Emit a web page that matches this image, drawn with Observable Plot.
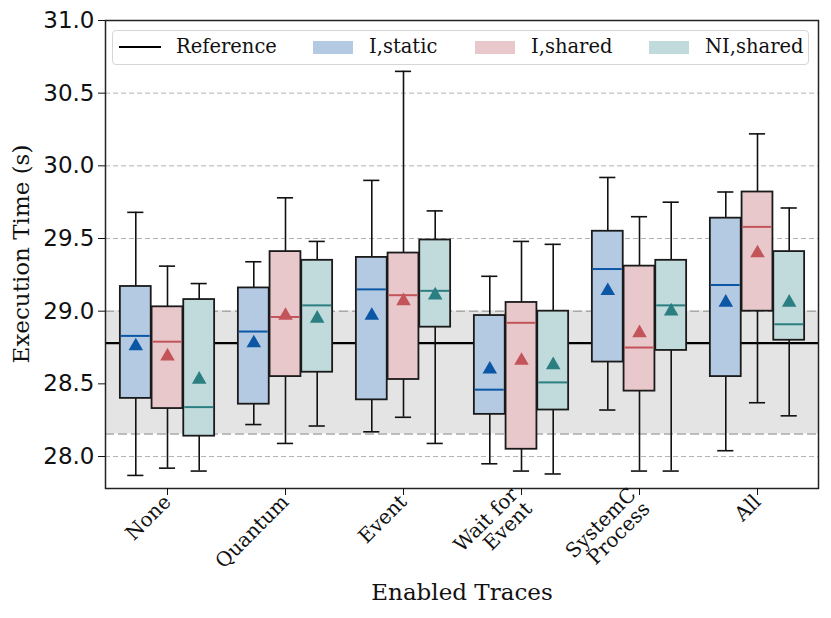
<!DOCTYPE html>
<html>
<head>
<meta charset="utf-8">
<script src="https://cdn.jsdelivr.net/npm/d3@7"></script>
<script src="https://cdn.jsdelivr.net/npm/@observablehq/plot@0.6"></script>
<style>
  body { margin: 0; background: #fff; }
  #wrap { position: relative; width: 831px; height: 618px; }
  .serif { font-family: "DejaVu Serif", serif; color: #111; }
  #legend { position: absolute; left: 112px; top: 30px; width: 697px; height: 35px;
    border: 1px solid #d6d6d6; border-radius: 4px; background: rgba(255,255,255,0.85); box-sizing: border-box; }
  .lg { position: absolute; font-size: 19.5px; line-height: 20px; top: 6px; white-space: nowrap; }
  .patch { position: absolute; top: 10px; width: 40px; height: 13px; }
  #ylab { position: absolute; left: 21px; top: 254px; transform: translate(-50%, -50%) rotate(-90deg);
    font-size: 23px; white-space: nowrap; }
  #xlab { position: absolute; left: 462px; top: 592px; transform: translate(-50%, -50%);
    font-size: 23px; white-space: nowrap; }
</style>
</head>
<body>
<div id="wrap"></div>
<script>
// ---------- data ----------
const categories = ["None", "Quantum", "Event", "Wait for\nEvent", "SystemC\nProcess", "All"];
const seriesNames = ["I,static", "I,shared", "NI,shared"];

const staticLow  = [27.87, 28.22, 28.17, 27.95, 28.32, 28.04];
const staticQ1   = [28.40, 28.36, 28.39, 28.29, 28.65, 28.55];
const staticMed  = [28.83, 28.86, 29.15, 28.46, 29.29, 29.18];
const staticQ3   = [29.17, 29.16, 29.37, 28.97, 29.55, 29.64];
const staticHigh = [29.68, 29.34, 29.90, 29.24, 29.92, 29.82];
const staticMean = [28.76, 28.78, 28.97, 28.60, 29.14, 29.06];

const sharedLow  = [27.92, 28.09, 28.27, 27.90, 27.90, 28.37];
const sharedQ1   = [28.33, 28.55, 28.53, 28.05, 28.45, 29.00];
const sharedMed  = [28.79, 28.96, 29.11, 28.92, 28.75, 29.58];
const sharedQ3   = [29.03, 29.41, 29.40, 29.06, 29.31, 29.82];
const sharedHigh = [29.31, 29.78, 30.65, 29.48, 29.65, 30.22];
const sharedMean = [28.69, 28.97, 29.07, 28.66, 28.85, 29.40];

const niLow  = [27.90, 28.21, 28.09, 27.88, 27.90, 28.28];
const niQ1   = [28.14, 28.58, 28.89, 28.32, 28.73, 28.80];
const niMed  = [28.34, 29.04, 29.14, 28.51, 29.04, 28.91];
const niQ3   = [29.08, 29.35, 29.49, 29.00, 29.35, 29.41];
const niHigh = [29.19, 29.48, 29.69, 29.46, 29.75, 29.71];
const niMean = [28.53, 28.95, 29.11, 28.63, 29.00, 29.06];

const referenceValue = 28.78;
const referenceLow = 28.155;
const referenceHigh = 29.0;

const yTicks = [28.0, 28.5, 29.0, 29.5, 30.0, 30.5, 31.0];

// ---------- styles ----------
const fills   = ["#b4cae2", "#e9c8cb", "#c1dadb"];
const accents = ["#0b56a5", "#c2545a", "#2b7f80"];

const W = 831, H = 618, mL = 105, mR = 13, mT = 20, mB = 130;
const step = (W - mL - mR) / categories.length;
const boxW = 31.7;
const inset = (step - boxW) / 2;
const capInset = (step - 17) / 2;

const seriesData = [
  [staticLow, staticQ1, staticMed, staticQ3, staticHigh, staticMean],
  [sharedLow, sharedQ1, sharedMed, sharedQ3, sharedHigh, sharedMean],
  [niLow, niQ1, niMed, niQ3, niHigh, niMean]
];

const boxMarks = [];
seriesData.forEach(([low, q1, med, q3, high, mean], si) => {
  const rows = categories.map((c, i) => ({
    cat: c, series: seriesNames[si], low: low[i], q1: q1[i], med: med[i], q3: q3[i], high: high[i], mean: mean[i]
  }));
  const dx = (si - 1) * boxW;
  boxMarks.push(
    Plot.ruleX(rows, {x: "cat", y1: "low", y2: "high", dx, stroke: "#111", strokeWidth: 1.6}),
    Plot.tickY(rows, {x: "cat", y: "low", dx, insetLeft: capInset, insetRight: capInset, stroke: "#111", strokeWidth: 1.6}),
    Plot.tickY(rows, {x: "cat", y: "high", dx, insetLeft: capInset, insetRight: capInset, stroke: "#111", strokeWidth: 1.6}),
    Plot.barY(rows, {x: "cat", y1: "q1", y2: "q3", dx, insetLeft: inset, insetRight: inset,
      fill: fills[si], stroke: "#1a1a1a", strokeWidth: 1.8}),
    Plot.tickY(rows, {x: "cat", y: "med", dx, insetLeft: inset + 1, insetRight: inset + 1, stroke: accents[si], strokeWidth: 2}),
    Plot.dot(rows, {x: "cat", y: "mean", dx, symbol: "triangle", r: 5.4, fill: accents[si], stroke: "none"})
  );
});

const chart = Plot.plot({
  width: W, height: H,
  marginLeft: mL, marginRight: mR, marginTop: mT, marginBottom: mB,
  style: {background: "white", overflow: "visible"},
  x: {type: "band", domain: categories, padding: 0, label: null},
  y: {domain: [27.78, 31.0], label: null},
  marks: [
    Plot.ruleY(yTicks.slice(0, -1), {stroke: "#b3b3b3", strokeDasharray: "5,3", strokeWidth: 1}),
    Plot.rect([{lo: referenceLow, hi: referenceHigh}], {y1: "lo", y2: "hi", fill: "#e4e4e4"}),
    Plot.ruleY([referenceLow, referenceHigh], {stroke: "#a9a9a9", strokeDasharray: "9,4", strokeWidth: 1.6}),
    Plot.ruleY([referenceValue], {stroke: "#000", strokeWidth: 2.2}),
    ...boxMarks,
    Plot.frame({stroke: "#222", strokeWidth: 1.5}),
    Plot.axisY({ticks: yTicks, tickFormat: d => d.toFixed(1), fontSize: 23, fontFamily: "DejaVu Sans",
      tickSize: 7, tickPadding: 4, label: null, color: "#111"}),
    Plot.axisX({tickRotate: -45, fontSize: 20, fontFamily: "DejaVu Serif, serif",
      tickSize: 7, tickPadding: 3, label: null, color: "#111"})
  ]
});

const wrap = document.getElementById("wrap");
wrap.appendChild(chart);

// legend
const legend = document.createElement("div");
legend.id = "legend";
legend.className = "serif";
const items = [
  {type: "line", x: 6, label: "Reference", lx: 63},
  {type: "patch", x: 200, color: fills[0], label: "I,static", lx: 256},
  {type: "patch", x: 362, color: fills[1], label: "I,shared", lx: 418},
  {type: "patch", x: 536, color: fills[2], label: "NI,shared", lx: 592}
];
items.forEach(it => {
  const h = document.createElement("div");
  if (it.type === "line") {
    h.style.cssText = `position:absolute;left:${it.x}px;top:15px;width:42px;height:2px;background:#000;`;
  } else {
    h.className = "patch";
    h.style.left = it.x + "px";
    h.style.background = it.color;
  }
  legend.appendChild(h);
  const t = document.createElement("div");
  t.className = "lg";
  t.style.left = it.lx + "px";
  t.textContent = it.label;
  legend.appendChild(t);
});
wrap.appendChild(legend);

const ylab = document.createElement("div");
ylab.id = "ylab"; ylab.className = "serif"; ylab.textContent = "Execution Time (s)";
wrap.appendChild(ylab);
const xlab = document.createElement("div");
xlab.id = "xlab"; xlab.className = "serif"; xlab.textContent = "Enabled Traces";
wrap.appendChild(xlab);
</script>
</body>
</html>
